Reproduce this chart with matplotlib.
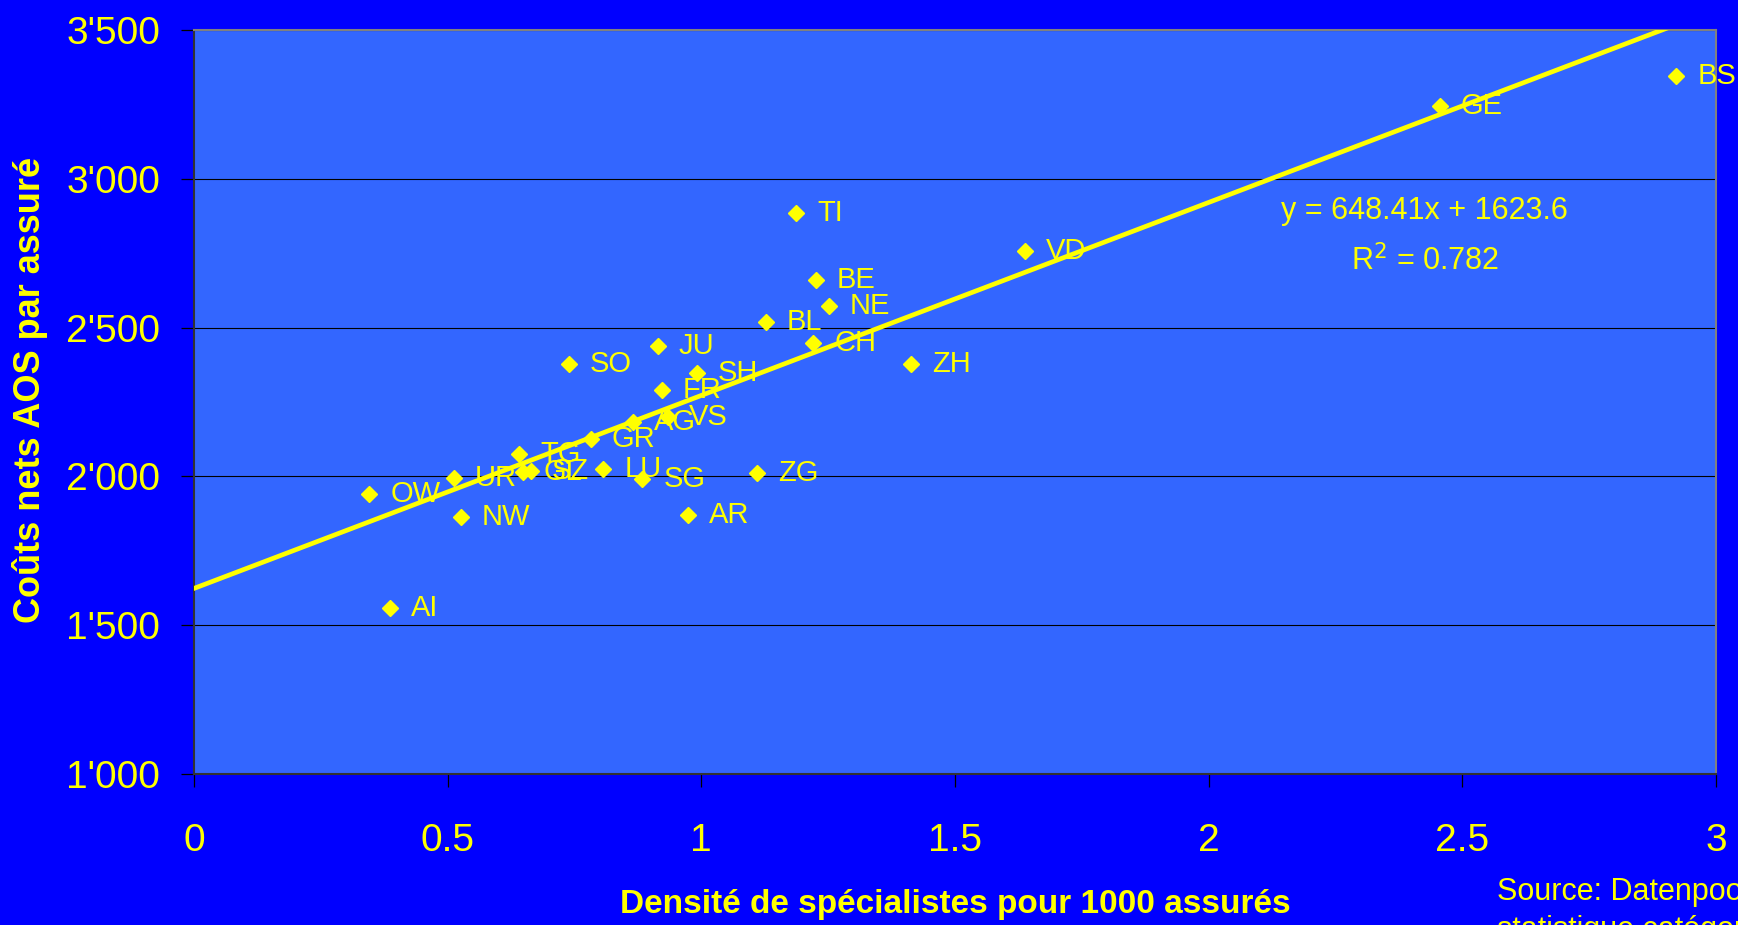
import numpy as np
import matplotlib
matplotlib.use("Agg")
import matplotlib.pyplot as plt
from matplotlib import font_manager as fm
from matplotlib.ticker import FuncFormatter

# ---- data ----
cantons = ["OW", "UR", "NW", "AI", "TG", "GL", "SZ", "SO", "GR", "LU", "AG", "SG",
           "JU", "FR", "VS", "AR", "SH", "ZG", "BL", "TI", "CH", "BE", "NE", "ZH",
           "VD", "GE", "BS"]
density = [0.346, 0.513, 0.526, 0.387, 0.641, 0.648, 0.664, 0.739, 0.782, 0.807, 0.866, 0.884,
           0.914, 0.923, 0.935, 0.974, 0.991, 1.110, 1.127, 1.187, 1.221, 1.226, 1.251, 1.413,
           1.639, 2.456, 2.922]
costs = [1941, 1994, 1863, 1557, 2074, 2016, 2018, 2378, 2126, 2026, 2184, 1992,
         2439, 2291, 2201, 1869, 2346, 2010, 2518, 2886, 2449, 2660, 2573, 2378,
         2759, 3245, 3345]
slope = 648.41
intercept = 1623.6
r2 = 0.782
x_ticks = [0, 0.5, 1, 1.5, 2, 2.5, 3]
y_ticks = [1000, 1500, 2000, 2500, 3000, 3500]

# ---- fonts ----
avail = {f.name for f in fm.fontManager.ttflist}
base = "Liberation Sans" if "Liberation Sans" in avail else "DejaVu Sans"
narrow = "Liberation Sans Narrow" if "Liberation Sans Narrow" in avail else base
plt.rcParams["font.family"] = [base, "DejaVu Sans"]

YEL = "#FFFF00"
fig = plt.figure(figsize=(17.38, 9.25), dpi=100, facecolor="#0000FF")
ax = fig.add_axes([0.1116, 0.1632, 0.9873 - 0.1116, 0.9676 - 0.1632])
ax.set_facecolor("#3366FF")

ax.set_xlim(0, 3)
ax.set_ylim(1000, 3500)
ax.set_xticks(x_ticks)
ax.set_yticks(y_ticks)
ax.xaxis.set_major_formatter(FuncFormatter(lambda v, p: f"{v:g}"))
ax.yaxis.set_major_formatter(FuncFormatter(lambda v, p: f"{v:,.0f}".replace(",", "'")))
ax.grid(axis="y", color="black", linewidth=0.8, zorder=1)
ax.set_axisbelow(True)

ax.tick_params(axis="both", direction="out", length=9.5, width=0.9, color="black",
               labelcolor=YEL, labelsize=28)
ax.tick_params(axis="x", pad=26)
ax.tick_params(axis="y", pad=15)

for s in ["top", "right"]:
    ax.spines[s].set_color("#808080")
    ax.spines[s].set_linewidth(1.5)
for s in ["left", "bottom"]:
    ax.spines[s].set_color("#333333")
    ax.spines[s].set_linewidth(1.5)

# trend line
xs = np.linspace(0, 3, 200)
ax.plot(xs, slope * xs + intercept, color=YEL, linewidth=3.4, zorder=3, clip_on=True)

# points
ax.plot(density, costs, linestyle="none", marker="D", markersize=8.3,
        color=YEL, zorder=4, clip_on=False)
for name, x, y in zip(cantons, density, costs):
    ax.annotate(name, (x, y), xytext=(15, 0), textcoords="offset points",
                ha="left", va="center", color=YEL, fontsize=21, zorder=5,
                annotation_clip=False)

# equation
fig.text(1424 / 1738, 1 - 211 / 925, f"y = {slope}x + {intercept}",
         ha="center", va="center", color=YEL, fontsize=22)
fig.text(1425 / 1738, 1 - 261 / 925, f"R$^2$ = {r2}",
         ha="center", va="center", color=YEL, fontsize=22)

# axis labels
fig.text(955 / 1738, 1 - 904 / 925, "Densité de spécialistes pour 1000 assurés",
         ha="center", va="center", color=YEL, fontsize=24, fontweight="bold",
         family=[narrow, base])
fig.text(30 / 1738, 1 - 390 / 925, "Coûts nets AOS par assuré", rotation=90,
         ha="center", va="center", color=YEL, fontsize=26, fontweight="bold",
         family=[narrow, base])

# source (second line runs off the bottom edge, as in the reference)
fig.text(1497 / 1738, 1 - 900 / 925, "Source: Datenpool santésuisse",
         ha="left", va="baseline", color=YEL, fontsize=22)
fig.text(1497 / 1738, 1 - 938 / 925, "statistique catégories OFS",
         ha="left", va="baseline", color=YEL, fontsize=22)

fig.savefig("out.png", dpi=100, facecolor=fig.get_facecolor())
